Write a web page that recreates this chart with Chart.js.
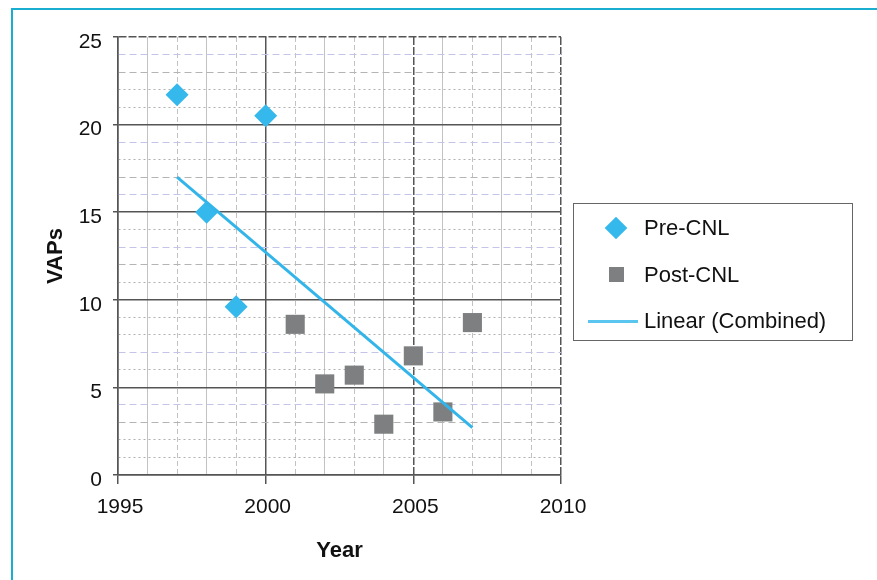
<!DOCTYPE html>
<html>
<head>
<meta charset="utf-8">
<script src="https://cdn.jsdelivr.net/npm/chart.js@4.4.1/dist/chart.umd.min.js"></script>
<style>
  html, body { margin: 0; padding: 0; background: #fff; }
  #wrap { position: relative; width: 877px; height: 580px; overflow: hidden; font-family: "Liberation Sans", Arial, sans-serif; }
  #frame { position: absolute; left: 11px; top: 8px; width: 900px; height: 600px; border-top: 2px solid #19aecf; border-left: 2px solid #19aecf; }
  #grafica { position: absolute; left: 0; top: 0; }
  #leyenda { position: absolute; left: 573px; top: 203px; width: 278px; height: 135px; border: 1.5px solid #666; }
  .fila { position: relative; height: 46.5px; }
  .simbolo { position: absolute; left: 0; top: 0; width: 84px; height: 100%; display: flex; align-items: center; justify-content: center; }
  .texto { position: absolute; left: 70px; top: 0; height: 100%; display: flex; align-items: center; font-size: 22px; color: #111; white-space: nowrap; }
</style>
</head>
<body>
<div id="wrap">
  <div id="frame"></div>
  <canvas id="grafica" width="877" height="580"></canvas>
  <div id="leyenda"></div>
</div>
<script>
// data
const preYears = [1997, 1998, 1999, 2000];
const preVaps = [21.7, 15.0, 9.6, 20.5];
const postYears = [2001, 2002, 2003, 2004, 2005, 2006, 2007];
const postVaps = [8.6, 5.2, 5.7, 2.9, 6.8, 3.6, 8.7];
const trendYears = [1997, 2007];
const trendVaps = [17.0, 2.7];
const seriesNames = ['Pre-CNL', 'Post-CNL', 'Linear (Combined)'];
const xTicksShown = [1995, 2000, 2005, 2010];
const yTicksShown = [0, 5, 10, 15, 20, 25];

const pts = (xs, ys) => xs.map((x, i) => ({x: x, y: ys[i]}));

// grid line looks
const mayor = {color: '#555', dash: [], width: 1.5};
const mayorRaya = {color: '#555', dash: [8, 2], width: 1.5};
const punteada = {color: '#b0b0b0', dash: [2, 3], width: 1};
const rayaGris = {color: '#b4b4b4', dash: [7, 4], width: 1};
const rayaLila = {color: '#c2c5e8', dash: [7, 4], width: 1};
const estilosY = {
  1: punteada, 2: punteada, 3: rayaGris, 4: rayaLila,
  6: punteada, 7: rayaLila, 8: punteada, 9: punteada,
  11: punteada, 12: rayaGris, 13: rayaLila, 14: punteada,
  16: rayaLila, 17: rayaGris, 18: punteada, 19: rayaLila,
  21: punteada, 22: punteada, 23: rayaGris, 24: rayaLila
};
function estiloX(v) {
  if (v === 2005 || v === 2010) return mayorRaya;
  if (v % 5 === 0) return mayor;
  if (v % 2 === 0) return {color: '#c2c2c2', dash: [], width: 1};
  return {color: '#c2c2c2', dash: [5, 3], width: 1};
}
function estiloY(v) {
  if (v === 25) return mayorRaya;
  if (v % 5 === 0) return mayor;
  return estilosY[v] || punteada;
}
const val = (c) => c.tick ? c.tick.value : null;

const fuente = {family: '"Liberation Sans", Arial, sans-serif', size: 21};
const fuenteTitulo = {family: '"Liberation Sans", Arial, sans-serif', size: 22, weight: 'bold'};

const grafica = document.getElementById('grafica');
const myChart = new Chart(grafica, {
  type: 'scatter',
  data: {
    datasets: [
      {
        label: seriesNames[0],
        data: pts(preYears, preVaps),
        backgroundColor: '#35b8ec',
        borderWidth: 0,
        pointStyle: 'rectRot',
        pointRadius: 11.5,
        order: 3
      },
      {
        label: seriesNames[1],
        data: pts(postYears, postVaps),
        backgroundColor: '#7d7f81',
        borderWidth: 0,
        pointStyle: 'rect',
        pointRadius: 13.5,
        order: 2
      },
      {
        label: seriesNames[2],
        data: pts(trendYears, trendVaps),
        showLine: true,
        borderColor: '#33b5ea',
        borderWidth: 3,
        pointRadius: 0,
        order: 1
      }
    ]
  },
  options: {
    responsive: false,
    animation: false,
    layout: {padding: {left: 20, right: 316, top: 37, bottom: 10}},
    scales: {
      x: {
        type: 'linear',
        min: 1995,
        max: 2010,
        afterFit: (s) => { s.height = 95; },
        ticks: {
          stepSize: 1,
          autoSkip: false,
          maxRotation: 0,
          padding: 11,
          labelOffset: 2,
          color: '#111',
          font: fuente,
          callback: (v) => xTicksShown.includes(v) ? String(v) : ''
        },
        grid: {
          color: (c) => val(c) === null ? '#555' : estiloX(val(c)).color,
          lineWidth: (c) => val(c) === null ? 1.5 : estiloX(val(c)).width,
          tickLength: 9,
          tickColor: (c) => xTicksShown.includes(val(c)) ? '#555' : 'rgba(0,0,0,0)',
          tickWidth: 1.5
        },
        border: {
          color: '#555',
          width: 1.5,
          dash: (c) => val(c) === null ? [] : estiloX(val(c)).dash
        },
        title: {
          display: true,
          text: 'Year',
          color: '#111',
          font: fuenteTitulo,
          padding: {top: 0, bottom: 6}
        }
      },
      y: {
        min: 0,
        max: 25,
        afterFit: (s) => { s.width = 98; },
        ticks: {
          stepSize: 1,
          autoSkip: false,
          padding: 11,
          labelOffset: 5,
          color: '#111',
          font: fuente,
          callback: (v) => yTicksShown.includes(v) ? String(v) : ''
        },
        grid: {
          color: (c) => val(c) === null ? '#555' : estiloY(val(c)).color,
          lineWidth: (c) => val(c) === null ? 1.5 : estiloY(val(c)).width,
          tickLength: 5,
          tickColor: (c) => yTicksShown.includes(val(c)) ? '#555' : 'rgba(0,0,0,0)',
          tickWidth: 1.5
        },
        border: {
          color: '#555',
          width: 1.5,
          dash: (c) => val(c) === null ? [] : estiloY(val(c)).dash
        },
        title: {
          display: true,
          text: 'VAPs',
          color: '#111',
          font: fuenteTitulo,
          padding: {top: 23, bottom: 0}
        }
      }
    },
    plugins: {
      legend: {display: false},
      tooltip: {enabled: false}
    }
  }
});

// html legend built from the chart's datasets
const leyenda = document.getElementById('leyenda');
leyenda.style.paddingTop = '1px';
myChart.data.datasets.forEach((ds) => {
  const fila = document.createElement('div');
  fila.className = 'fila';
  const sim = document.createElement('div');
  sim.className = 'simbolo';
  const marca = document.createElement('div');
  if (ds.pointStyle === 'rectRot') {
    marca.style.cssText = 'width:16px;height:16px;transform:rotate(45deg);background:' + ds.backgroundColor;
  } else if (ds.pointStyle === 'rect') {
    marca.style.cssText = 'width:15px;height:15px;background:' + ds.backgroundColor;
  } else {
    marca.style.cssText = 'width:50px;height:3px;margin-left:-6px;background:#5ac6ef';
  }
  sim.appendChild(marca);
  const txt = document.createElement('div');
  txt.className = 'texto';
  txt.textContent = ds.label;
  fila.appendChild(sim);
  fila.appendChild(txt);
  leyenda.appendChild(fila);
});
</script>
</body>
</html>
